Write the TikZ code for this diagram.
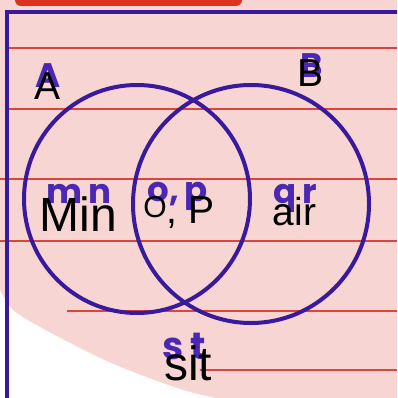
\documentclass[tikz,border=0pt]{standalone}
\usepackage{fontspec}
\setmainfont{Liberation Sans}
\newfontfamily\hand{Poppins}
\definecolor{pinkbg}{HTML}{F7D5D2}
\definecolor{penpurple}{HTML}{3A1A9C}
\definecolor{handpurple}{HTML}{4A28B4}
\definecolor{ruled}{HTML}{D9463E}
\definecolor{tabred}{HTML}{DC3222}
\tikzset{
  ruleline/.style={draw=ruled, line width=1.4pt},
  pen/.style={draw=penpurple, line width=4pt},
  hw/.style={anchor=base, inner sep=0pt, text=handpurple, font=\hand\bfseries\fontsize{34}{34}\selectfont},
  lbl/.style={anchor=base, inner sep=0pt, text=black, font=\fontsize{39}{39}\selectfont},
  biglbl/.style={lbl, font=\fontsize{48}{48}\selectfont}
}
\begin{document}
\begin{tikzpicture}[x=1pt,y=-1pt]
\useasboundingbox (0,0) rectangle (397,398);
\begin{scope}
\clip (0,0) rectangle (397,398);
% paper
\fill[pinkbg] (0,0) rectangle (397,398);
\fill[white] plot[smooth, tension=0.6] coordinates {(0,290) (13,310) (40,327) (72,344) (100,358) (123,368) (157,381) (190,392) (225,400)} -- (0,400) -- cycle;
% red tab at top
\fill[tabred, rounded corners=6pt] (15,-12) rectangle (242,6);
% ruled lines
\coordinate (l1a) at (7,48);   \coordinate (l1b) at (397,48);
\coordinate (l2a) at (7,109);  \coordinate (l2b) at (397,109);
\coordinate (l3a) at (0,179);  \coordinate (l3b) at (397,179);
\coordinate (l4a) at (0,241);  \coordinate (l4b) at (397,241);
\coordinate (l5a) at (67,311); \coordinate (l5b) at (397,311);
\coordinate (l6a) at (200,370);\coordinate (l6b) at (397,370);
\foreach \i in {1,...,6} { \draw[ruleline] (l\i a) -- (l\i b); }
% border
\draw[pen] (7,400) -- (7,12) -- (400,12);
% circles
\draw[pen] (137,199) ellipse [x radius=113, y radius=114];
\draw[pen] (251,204) ellipse [x radius=118, y radius=119];
% handwritten labels
\node[hw] (hA) at (48,88) {A};
\node[hw] (hB) at (312,78) {B};
\node[hw] (hmn) at (79,203) {m\,n};
\node[hw] (hop) at (178,201) {o,\,p};
\node[hw] (hqr) at (295,203) {q\,r};
\node[hw, font=\hand\bfseries\fontsize{38}{38}\selectfont] (hst) at (184,359) {s\,t};
% typed labels
\node[lbl] (A) at (48,100) {A};
\node[lbl] (B) at (311,87) {B};
\node[biglbl] (min) at (78.5,231) {Min};
\node[lbl] (op) at (179,223) {\raisebox{6pt}{\fontsize{30}{30}\selectfont O}, P};
\node[lbl] (air) at (294.5,225) {air};
\node[biglbl] (sit) at (188,380) {sit};
\end{scope}
\end{tikzpicture}
\end{document}
